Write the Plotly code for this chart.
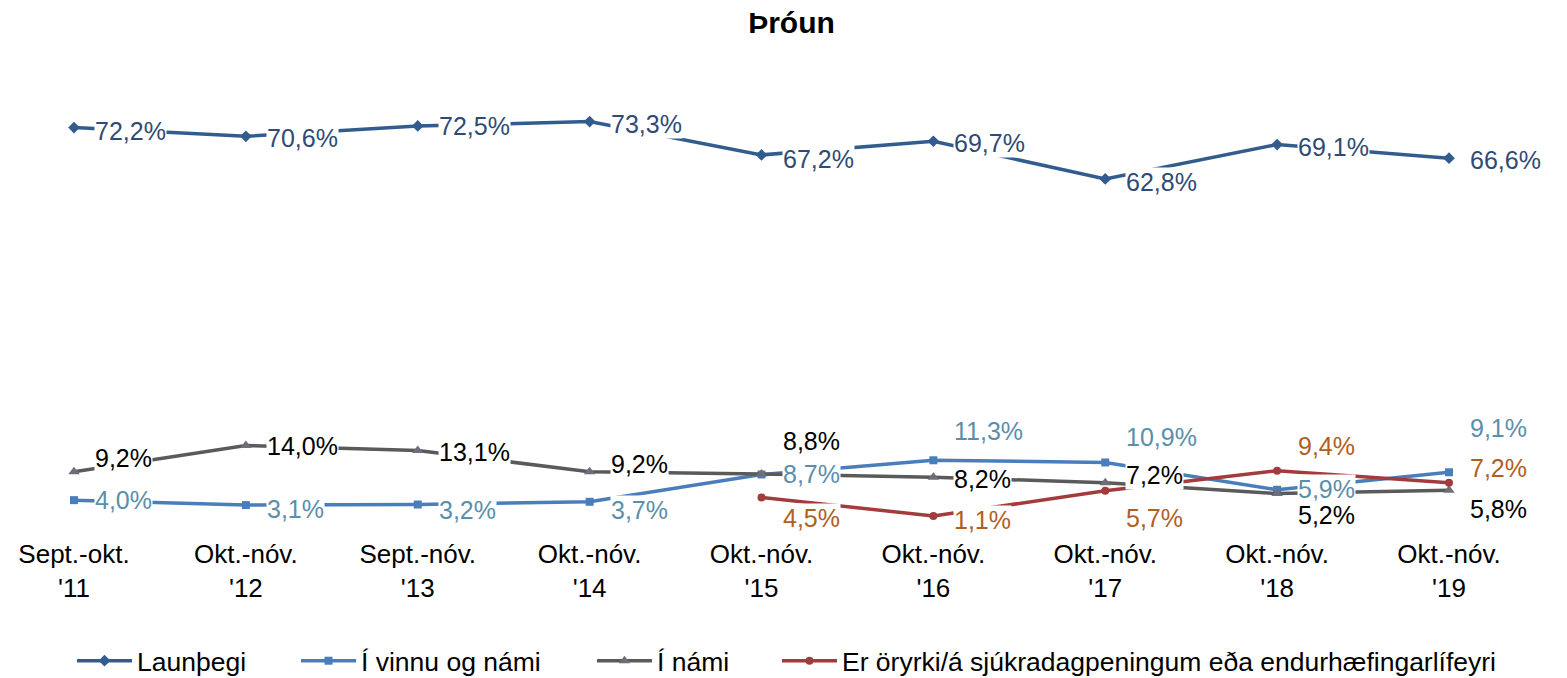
import plotly.graph_objects as go

categories = ["Sept.-okt.<br>'11", "Okt.-nóv.<br>'12", "Sept.-nóv.<br>'13", "Okt.-nóv.<br>'14",
              "Okt.-nóv.<br>'15", "Okt.-nóv.<br>'16", "Okt.-nóv.<br>'17", "Okt.-nóv.<br>'18",
              "Okt.-nóv.<br>'19"]

launthegi = [72.2, 70.6, 72.5, 73.3, 67.2, 69.7, 62.8, 69.1, 66.6]
vinna_nam = [4.0, 3.1, 3.2, 3.7, 8.7, 11.3, 10.9, 5.9, 9.1]
i_nami = [9.2, 14.0, 13.1, 9.2, 8.8, 8.2, 7.2, 5.2, 5.8]
oryrki = [None, None, None, None, 4.5, 1.1, 5.7, 9.4, 7.2]

series_names = ["Launþegi", "Í vinnu og námi", "Í námi",
                "Er öryrki/á sjúkradagpeningum eða endurhæfingarlífeyri"]

# styles
line_colors = ["#335C8E", "#4A7EBB", "#5A5A5A", "#A33B3D"]
marker_colors = ["#335C8E", "#4A7EBB", "#6E6E78", "#A33B3D"]
label_colors = ["#2F4B75", "#5A8FAB", "#000000", "#B0601E"]
symbols = ["diamond", "square", "triangle-up", "circle"]
marker_sizes = [9, 8, 10, 8]
# vertical offset of each data label (pixels, positive = down)
label_dy = [
    [3, 2, 0, 2, 4, 2, 3, 2, 2],
    [0, 4, 5, 8, 0, -29, -25, -1, -44],
    [-14, 0, 2, -8, -33, 2, -8, 21, 19],
    [0, 0, 0, 0, 21, 4, 27, -25, -15],
]
# left edge (px) of each legend entry
legend_left = [64, 288, 584, 769]

FONT = "Liberation Sans, Arial, sans-serif"
W, H = 1567, 678
all_series = [launthegi, vinna_nam, i_nami, oryrki]
legend_ids = ["legend", "legend2", "legend3", "legend4"]

fig = go.Figure()
annotations = []
for i, (name, vals) in enumerate(zip(series_names, all_series)):
    fig.add_trace(go.Scatter(
        x=categories, y=vals, name=name, legend=legend_ids[i],
        mode="lines+markers",
        line=dict(color=line_colors[i], width=3.5),
        marker=dict(symbol=symbols[i], size=marker_sizes[i], color=marker_colors[i]),
        cliponaxis=False, connectgaps=False,
    ))
    for j, v in enumerate(vals):
        if v is None:
            continue
        annotations.append(dict(
            x=categories[j], y=v, xref="x", yref="y",
            text=f"{v:.1f}".replace(".", ",") + "%",
            showarrow=False, xanchor="left", yanchor="middle",
            xshift=20, yshift=-label_dy[i][j],
            font=dict(family=FONT, size=25, color=label_colors[i]),
            bgcolor="white", borderpad=0,
        ))

legend_layout = {}
for i, lid in enumerate(legend_ids):
    legend_layout[lid] = dict(
        orientation="h", x=legend_left[i] / W, xanchor="left", xref="container",
        y=1 - 653 / H, yanchor="middle", yref="container",
        font=dict(family=FONT, size=26.5, color="#000000"),
        itemwidth=55, borderwidth=0, bgcolor="rgba(0,0,0,0)",
    )

fig.update_layout(
    width=W, height=H,
    paper_bgcolor="white", plot_bgcolor="white",
    margin=dict(l=66, r=126, t=77, b=164, autoexpand=False),
    font=dict(family=FONT, size=25, color="#000000"),
    title=dict(text="<b>Þróun</b>", x=0.5, xanchor="center", y=0.979, yanchor="middle",
               yref="container", font=dict(family=FONT, size=30, color="#000000")),
    xaxis=dict(type="category", range=[0, 8], showgrid=False, zeroline=False,
               showline=False, ticks="", ticklabelstandoff=14, automargin=False,
               tickfont=dict(family=FONT, size=26, color="#000000")),
    yaxis=dict(range=[0, 80], visible=False, showgrid=False, zeroline=False,
               automargin=False),
    showlegend=True,
    annotations=annotations,
    **legend_layout,
)

fig.write_html("out.html")
